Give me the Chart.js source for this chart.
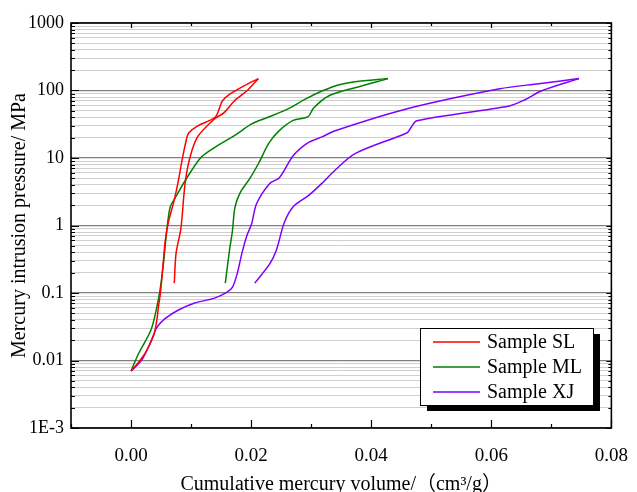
<html>
<head>
<title>Mercury intrusion</title>
<style>
  body { margin: 0; background: #fff; }
</style>
</head>
<body>
<canvas id="mip-chart" width="637" height="492"></canvas>
<script src="https://cdn.jsdelivr.net/npm/chart.js"></script>
<script>

    // sample names and colours
    const sampleNames = ["Sample SL", "Sample ML", "Sample XJ"]
    const sampleColors = ["#ff0000", "#008000", "#8000ff"]

    // intrusion (left branch) and extrusion (right branch)
    const slInX = [0, 0.0013, 0.0026, 0.0038, 0.0043, 0.0046, 0.0049, 0.0054, 0.0057, 0.0062, 0.0072, 0.0079, 0.0085, 0.0092, 0.0096, 0.0111, 0.0131, 0.0141, 0.0147, 0.0152, 0.0165, 0.0188, 0.0212]
    const slInY = [0.007, 0.0095, 0.014, 0.024, 0.04, 0.066, 0.1, 0.31, 0.6, 1.1, 2.4, 4.7, 9.3, 18.5, 23.5, 30, 36, 41, 54, 70, 89, 117, 150]
    const slOutX = [0.0212, 0.0193, 0.0172, 0.0155, 0.0139, 0.0111, 0.0098, 0.0090, 0.0083, 0.0075, 0.0072]
    const slOutY = [150, 99, 70, 47, 38, 20.7, 10.1, 4.2, 0.9, 0.39, 0.14]

    const mlInX = [0, 0.0013, 0.0033, 0.0043, 0.0049, 0.0054, 0.0059, 0.0065, 0.0074, 0.0090, 0.0116, 0.0139, 0.0172, 0.0201, 0.0226, 0.0259, 0.0291, 0.0319, 0.0345, 0.0373, 0.0428]
    const mlInY = [0.007, 0.0129, 0.028, 0.062, 0.122, 0.275, 0.76, 1.85, 2.6, 4.6, 10.1, 14.3, 21.4, 32, 39.5, 52, 75, 99, 121, 135, 150]
    const mlOutX = [0.0428, 0.0373, 0.0329, 0.0304, 0.0295, 0.0270, 0.0246, 0.0229, 0.0213, 0.0198, 0.0182, 0.0173, 0.0169, 0.0164, 0.0157]
    const mlOutY = [150, 110, 83, 55, 41, 36, 25, 16.3, 8.5, 5.0, 3.1, 1.85, 0.85, 0.43, 0.14]

    const xjInX = [0, 0.0018, 0.0034, 0.0043, 0.0057, 0.0079, 0.0106, 0.0139, 0.0160, 0.0169, 0.0177, 0.0185, 0.0193, 0.0201, 0.0209, 0.0231, 0.0247, 0.0270, 0.0295, 0.0319, 0.0340, 0.0460, 0.0614, 0.0679, 0.0746]
    const xjInY = [0.007, 0.0102, 0.020, 0.031, 0.042, 0.056, 0.071, 0.084, 0.103, 0.122, 0.196, 0.40, 0.71, 1.07, 2.1, 4.2, 5.1, 10.8, 16.9, 20.7, 25.4, 53.7, 106, 126, 150]
    const xjOutX = [0.0746, 0.0684, 0.0656, 0.0630, 0.0476, 0.0466, 0.0460, 0.0373, 0.0335, 0.0319, 0.0296, 0.0270, 0.0255, 0.0242, 0.0231, 0.0206]
    const xjOutY = [150, 99, 73, 59, 35.6, 28, 23.7, 11.6, 6.0, 4.3, 2.8, 1.9, 1.09, 0.43, 0.27, 0.14]

    // axis ticks
    const xTickValues = [0, 0.02, 0.04, 0.06, 0.08]
    const xTickLabels = ["0.00", "0.02", "0.04", "0.06", "0.08"]
    const yTickValues = [0.001, 0.01, 0.1, 1, 10, 100, 1000]
    const yTickLabels = ["1E-3", "0.01", "0.1", "1", "10", "100", "1000"]

    const serif = "'Liberation Serif', 'Times New Roman', 'Noto Sans CJK SC', serif"

    function toPoints(xs, ys){
        return xs.map((x, i) => ({x: x, y: ys[i]}))
    }

    function isDecade(v){
        const l = Math.log10(v)
        return Math.abs(l - Math.round(l)) < 1e-6
    }

    const branches = [
        [slInX, slInY, 0], [slOutX, slOutY, 0],
        [mlInX, mlInY, 1], [mlOutX, mlOutY, 1],
        [xjInX, xjInY, 2], [xjOutX, xjOutY, 2]
    ]

    const datasets = branches.map(b => ({
        label: sampleNames[b[2]],
        data: toPoints(b[0], b[1]),
        showLine: true,
        borderColor: sampleColors[b[2]],
        borderWidth: 1.5,
        pointRadius: 0,
        tension: 0.3,
        fill: false
    }))

    // black frame with inward ticks on all four sides
    const framePlugin = {
        id: "frame",
        afterDatasetsDraw(chart){
            const c = chart.ctx
            const a = chart.chartArea
            const xs = chart.scales.x
            const ys = chart.scales.y
            c.save()
            c.strokeStyle = "#000"
            c.lineWidth = 1.2
            c.beginPath()
            for (let k = -1; k <= 8; k++){
                const v = k / 100
                const px = Math.round(xs.getPixelForValue(v)) + 0.5
                const major = k % 2 == 0
                c.moveTo(px, a.bottom); c.lineTo(px, a.bottom - (major ? 8 : 4))
                c.moveTo(px, a.top); c.lineTo(px, a.top + (major ? 5 : 3))
            }
            for (let e = -3; e <= 3; e++){
                for (let m = 1; m <= 9; m++){
                    const v = m * Math.pow(10, e)
                    if (v > 1000) break
                    const py = Math.round(ys.getPixelForValue(v)) + 0.5
                    const len = m == 1 ? 8 : 4
                    c.moveTo(a.left, py); c.lineTo(a.left + len, py)
                    c.moveTo(a.right, py); c.lineTo(a.right - (m == 1 ? 5 : 3), py)
                }
            }
            c.stroke()
            c.lineWidth = 1.6
            c.strokeRect(a.left, a.top, a.right - a.left, a.bottom - a.top)
            c.restore()
        }
    }

    // boxed legend with a drop shadow
    const legendPlugin = {
        id: "boxLegend",
        afterDraw(chart){
            const c = chart.ctx
            const bx = 420, by = 328, bw = 173, bh = 77
            c.save()
            c.fillStyle = "#000"
            c.fillRect(bx + 7, by + 6, bw, bh)
            c.fillStyle = "#fff"
            c.fillRect(bx, by, bw, bh)
            c.strokeStyle = "#000"
            c.lineWidth = 1
            c.strokeRect(bx + 0.5, by + 0.5, bw, bh)
            c.font = "20px " + serif
            c.textBaseline = "middle"
            sampleNames.forEach((name, i) => {
                const ly = by + 14 + i * 25
                c.strokeStyle = sampleColors[i]
                c.lineWidth = 1.5
                c.beginPath()
                c.moveTo(433, ly); c.lineTo(480, ly)
                c.stroke()
                c.fillStyle = "#000"
                c.fillText(name, 487, ly + 1)
            })
            c.restore()
        }
    }

    function main(){
        const ctx = document.getElementById("mip-chart")
        new Chart(ctx, {
            type: "scatter",
            data: { datasets: datasets },
            options: {
                responsive: false,
                animation: false,
                layout: { padding: { top: 23, right: 17, left: 0, bottom: 0 } },
                plugins: {
                    legend: { display: false },
                    tooltip: { enabled: false }
                },
                scales: {
                    x: {
                        type: "linear",
                        min: -0.01,
                        max: 0.08,
                        grid: { display: false },
                        border: { display: false },
                        afterBuildTicks: s => { s.ticks = xTickValues.map(v => ({value: v})) },
                        afterFit: s => { s.height = 64 },
                        ticks: {
                            autoSkip: false,
                            maxRotation: 0,
                            padding: 9,
                            color: "#000",
                            font: { family: serif, size: 19 },
                            callback: (v, i) => xTickLabels[i]
                        },
                        title: {
                            display: true,
                            text: "Cumulative mercury volume/（cm³/g）",
                            color: "#000",
                            font: { family: serif, size: 20, lineHeight: 0.7 },
                            padding: { top: 0, bottom: 0 }
                        }
                    },
                    y: {
                        type: "logarithmic",
                        min: 0.001,
                        max: 1000,
                        border: { display: false },
                        grid: {
                            drawTicks: false,
                            color: c => isDecade(c.tick.value) ? "#808080" : "#cfcfcf",
                            lineWidth: c => isDecade(c.tick.value) ? 1.3 : 1
                        },
                        afterBuildTicks: s => {
                            const t = []
                            for (let e = -3; e <= 3; e++){
                                for (let m = 1; m <= 9; m++){
                                    const v = m * Math.pow(10, e)
                                    if (v <= 1000) t.push({value: v})
                                }
                            }
                            s.ticks = t
                        },
                        afterFit: s => { s.width = 71 },
                        ticks: {
                            autoSkip: false,
                            padding: 7,
                            color: "#000",
                            font: { family: serif, size: 18 },
                            callback: v => {
                                const i = yTickValues.findIndex(t => Math.abs(t - v) / t < 1e-6)
                                return i >= 0 ? yTickLabels[i] : ""
                            }
                        },
                        title: {
                            display: true,
                            text: "Mercury intrusion pressure/ MPa",
                            color: "#000",
                            font: { family: serif, size: 20, lineHeight: 1 },
                            padding: { top: 10, bottom: 0 }
                        }
                    }
                }
            },
            plugins: [framePlugin, legendPlugin]
        })
    }

    main()
</script>
</body>
</html>
